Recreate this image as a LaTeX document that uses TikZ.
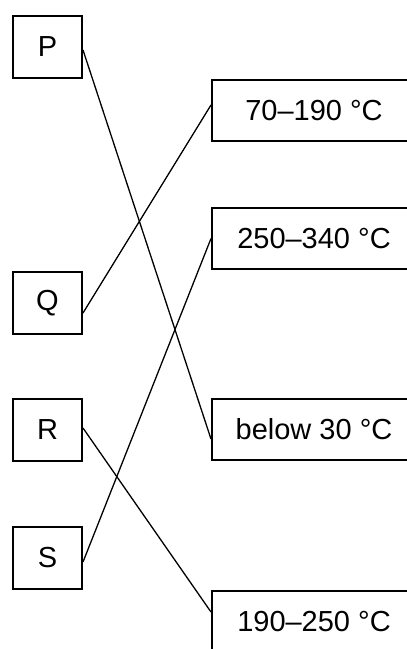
\documentclass[tikz,border=0pt]{standalone}
\usepackage{fontspec}
\setmainfont{Liberation Sans}
\begin{document}
\begin{tikzpicture}[x=1pt,y=-1pt,
  leftbox/.style={draw, line width=2pt, minimum width=69pt, minimum height=62pt, inner sep=0pt, font=\fontsize{29}{34}\selectfont},
  rightbox/.style={draw, line width=2pt, minimum width=204pt, minimum height=61pt, inner sep=0pt, font=\fontsize{29}{34}\selectfont},
  link/.style={line width=1.3pt}]
\useasboundingbox (0,0) rectangle (407,649);
\clip (0,0) rectangle (407,649);
\node[leftbox] (P) at (47.5,47) {P};
\node[leftbox] (Q) at (47.5,303) {Q};
\node[leftbox] (R) at (47.5,429.5) {R};
\node[leftbox] (S) at (47.5,558) {S};
\node[rightbox] (A) at (314,110.5) {70–190 °C};
\node[rightbox] (B) at (314,238.5) {250–340 °C};
\node[rightbox] (C) at (314,429.5) {below 30 °C};
\node[rightbox] (D) at (314,621.5) {190–250 °C};
\draw[link] ([yshift=-3pt]P.east) -- ([yshift=-9.5pt]C.west);
\draw[link] ([yshift=-10pt]Q.east) -- ([yshift=5.5pt]A.west);
\draw[link] ([yshift=1.5pt]R.east) -- ([yshift=9.5pt]D.west);
\draw[link] ([yshift=-4pt]S.east) -- (B.west);
\end{tikzpicture}
\end{document}
